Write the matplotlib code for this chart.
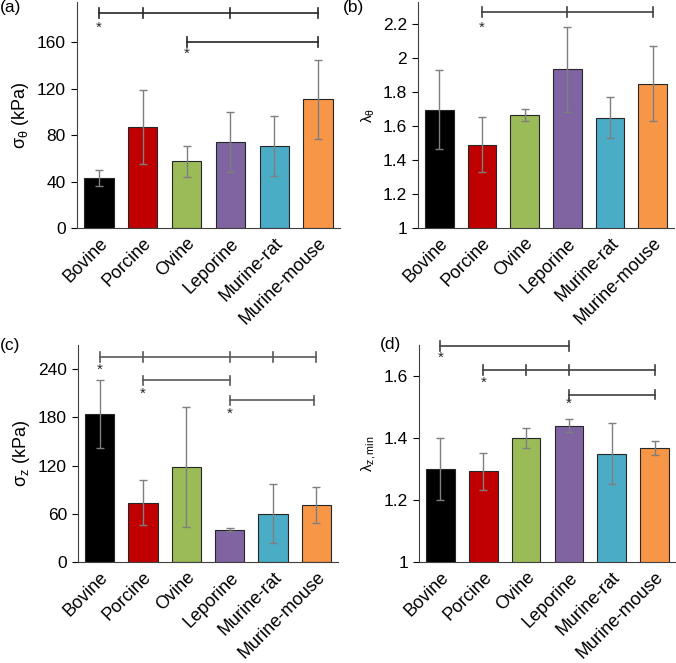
import numpy as np
import matplotlib.pyplot as plt

plt.rcParams['font.family'] = ['Liberation Sans', 'DejaVu Sans']
plt.rcParams['mathtext.fontset'] = 'custom'
plt.rcParams['mathtext.rm'] = 'Liberation Sans'
plt.rcParams['mathtext.it'] = 'Liberation Sans:italic'

categories = ['Bovine', 'Porcine', 'Ovine', 'Leporine', 'Murine-rat', 'Murine-mouse']
colors = ['#000000', '#C00000', '#9BBB59', '#8064A2', '#4BACC6', '#F79646']

# panel (a) circumferential stress
sig_theta = [43, 87, 57.5, 74, 70.5, 111]
sig_theta_err = [7, 31.5, 13.5, 26, 25.5, 34]
# panel (b) circumferential stretch
lam_theta = [1.695, 1.49, 1.665, 1.935, 1.65, 1.85]
lam_theta_err = [0.232, 0.162, 0.035, 0.25, 0.12, 0.222]
# panel (c) axial stress
sig_z = [184, 74, 118, 40, 60, 71]
sig_z_err = [42, 27.5, 74.5, 2, 36.5, 22.5]
# panel (d) minimum axial stretch
lam_zmin = [1.30, 1.292, 1.40, 1.44, 1.35, 1.367]
lam_zmin_err = [0.10, 0.061, 0.033, 0.02, 0.097, 0.023]

# significance brackets: (start index, tick indices, end index, line y, star y)
sig_a = [(0, [1, 3], 5, 185, 172), (2, [], 5, 160, 150)]
sig_b = [(1, [3], 5, 2.27, 2.18)]
sig_c = [(0, [1, 3, 4], 5, 255, 239), (1, [], 3, 226, 209), (3, [], 4.94, 201, 184)]
sig_d = [(0, [], 3, 1.696, 1.66), (1, [2, 3], 5, 1.62, 1.578), (3, [], 5, 1.54, 1.509)]

W, H = 676, 663
fig = plt.figure(figsize=(W / 100, H / 100), dpi=100)


def panel(rect, vals, errs, ylim, yticks, yticklabels, ylabel, ylabel_size, tag, tag_xy, sigs, sig_color):
    ax = fig.add_axes(rect)
    x = np.arange(len(categories))
    ax.bar(x, vals, width=0.67, color=colors, edgecolor='#262626', linewidth=0.8,
           yerr=errs, error_kw=dict(ecolor='#7f7f7f', elinewidth=1.0, capsize=3, capthick=1.0),
           zorder=2)
    ax.set_xlim(-0.5, 5.5)
    ax.set_ylim(*ylim)
    ax.set_yticks(yticks)
    ax.set_yticklabels(yticklabels, fontsize=12.5)
    ax.set_xticks(x)
    ax.set_xticklabels(categories, rotation=45, ha='right', rotation_mode='anchor', fontsize=13)
    ax.tick_params(axis='x', length=0, pad=5)
    ax.tick_params(axis='y', length=4, width=0.8, direction='out', pad=4)
    ax.spines['top'].set_visible(False)
    ax.spines['right'].set_visible(False)
    ax.spines['left'].set_color('#404040')
    ax.spines['bottom'].set_color('#404040')
    ax.set_ylabel(ylabel, fontsize=ylabel_size, labelpad=4)

    span = ylim[1] - ylim[0]
    th = span * 0.022
    for s, ticks, e, ly, sy in sigs:
        ax.plot([s, e], [ly, ly], color=sig_color, lw=1.2, clip_on=False, zorder=3)
        for t in [s] + ticks + [e]:
            ax.plot([t, t], [ly - th, ly + th], color=sig_color, lw=1.2, clip_on=False, zorder=3)
        ax.text(s, sy, '*', ha='center', va='center', fontsize=11, color='#262626')
    fig.text(tag_xy[0] / W, 1 - tag_xy[1] / H, tag, fontsize=12.5, va='top', ha='left')
    return ax


panel([77 / W, 435 / H, 263 / W, 226 / H], sig_theta, sig_theta_err, (0, 194.5),
      [0, 40, 80, 120, 160], ['0', '40', '80', '120', '160'],
      'σ$_{\\mathrm{θ}}$ (kPa)', 13, '(a)', (0, 0), sig_a, '#262626')
panel([418 / W, 435 / H, 256 / W, 226 / H], lam_theta, lam_theta_err, (1, 2.33),
      [1, 1.2, 1.4, 1.6, 1.8, 2.0, 2.2], ['1', '1.2', '1.4', '1.6', '1.8', '2', '2.2'],
      'λ$_{\\mathrm{θ}}$', 11, '(b)', (343, 0), sig_b, '#404040')
panel([78 / W, 101 / H, 260 / W, 217 / H], sig_z, sig_z_err, (0, 270),
      [0, 60, 120, 180, 240], ['0', '60', '120', '180', '240'],
      'σ$_{\\mathrm{z}}$ (kPa)', 13, '(c)', (0, 338), sig_c, '#595959')
panel([419 / W, 101 / H, 257 / W, 217 / H], lam_zmin, lam_zmin_err, (1, 1.70),
      [1, 1.2, 1.4, 1.6], ['1', '1.2', '1.4', '1.6'],
      'λ$_{\\mathrm{z,min}}$', 11, '(d)', (380, 337), sig_d, '#404040')

fig.savefig('out.png', dpi=100)
